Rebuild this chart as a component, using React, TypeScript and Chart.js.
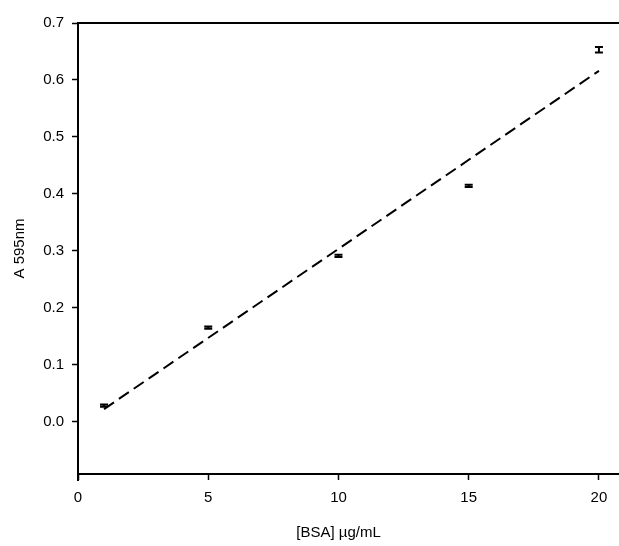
import React, { useEffect, useRef } from "react";
import { Chart, registerables } from "chart.js";

Chart.register(...registerables);

const concentrations = [1, 5, 10, 15, 20];
const absorbance = [0.028, 0.165, 0.291, 0.414, 0.653];
const errors = [0.002, 0.002, 0.002, 0.002, 0.005];
const fitX = [1, 20];
const fitY = [0.022, 0.616];
const xTicks = [0, 5, 10, 15, 20];
const yTicks = [0, 0.1, 0.2, 0.3, 0.4, 0.5, 0.6, 0.7];
const xTitle = "[BSA] µg/mL";
const yTitle = "A 595nm";

const FONT = "'Liberation Sans', Arial, sans-serif";

const errorBarPlugin = {
  id: "errorBars",
  afterDatasetsDraw(chart: any) {
    const { ctx, scales } = chart;
    const xs = scales.x;
    const ys = scales.y;
    ctx.save();
    ctx.strokeStyle = "#000";
    ctx.lineWidth = 2;
    concentrations.forEach((c, i) => {
      const px = xs.getPixelForValue(c);
      const top = ys.getPixelForValue(absorbance[i] + errors[i]);
      const bot = ys.getPixelForValue(absorbance[i] - errors[i]);
      const hw = 4;
      ctx.beginPath();
      ctx.moveTo(px, top);
      ctx.lineTo(px, bot);
      ctx.moveTo(px - hw, top);
      ctx.lineTo(px + hw, top);
      ctx.moveTo(px - hw, bot);
      ctx.lineTo(px + hw, bot);
      ctx.stroke();
    });
    ctx.restore();
  },
};

const framePlugin = {
  id: "frame",
  afterDraw(chart: any) {
    const { ctx, chartArea, scales } = chart;
    ctx.save();
    ctx.strokeStyle = "#000";
    ctx.lineWidth = 2;
    ctx.beginPath();
    ctx.moveTo(chartArea.left - 1, chartArea.top);
    ctx.lineTo(chartArea.right, chartArea.top);
    ctx.moveTo(chartArea.left, chartArea.bottom);
    ctx.lineTo(chartArea.left, chartArea.bottom + 7);
    ctx.stroke();
    ctx.fillStyle = "#000";
    ctx.font = `15px ${FONT}`;
    ctx.textAlign = "center";
    ctx.textBaseline = "middle";
    const cx = (scales.x.getPixelForValue(xTicks[0]) + scales.x.getPixelForValue(xTicks[xTicks.length - 1])) / 2;
    ctx.fillText(xTitle, cx, 533);
    ctx.translate(20, (chartArea.top + chartArea.bottom) / 2);
    ctx.rotate(-Math.PI / 2);
    ctx.fillText(yTitle, 0, 0);
    ctx.restore();
  },
};

export default function App() {
  const ref = useRef<HTMLCanvasElement | null>(null);
  useEffect(() => {
    document.body.style.margin = "0";
    if (!ref.current) return;
    const chart = new Chart(ref.current, {
      type: "scatter",
      data: {
        datasets: [
          {
            label: "fit",
            data: fitX.map((x, i) => ({ x, y: fitY[i] })),
            showLine: true,
            borderColor: "#000",
            borderWidth: 2,
            borderDash: [12, 6],
            pointRadius: 0,
            fill: false,
          },
          {
            label: "data",
            data: concentrations.map((x, i) => ({ x, y: absorbance[i] })),
            pointRadius: 0,
            borderColor: "#000",
            backgroundColor: "#000",
          },
        ],
      },
      options: {
        animation: false,
        responsive: false,
        layout: { padding: { top: 23, right: 0, left: 0, bottom: 0 } },
        plugins: { legend: { display: false }, tooltip: { enabled: false } },
        scales: {
          x: {
            type: "linear",
            min: 0,
            max: 20.77,
            afterBuildTicks(scale: any) {
              scale.ticks = xTicks.map((v) => ({ value: v }));
            },
            afterFit(scale: any) {
              scale.height = 72;
            },
            grid: { display: true, drawOnChartArea: false, drawTicks: true, tickLength: 6, tickColor: "#000", tickWidth: 1.5, color: "#000" },
            border: { display: true, color: "#000", width: 2 },
            ticks: {
              color: "#000",
              font: { family: FONT, size: 15 },
              padding: 9,
              maxRotation: 0,
              callback: (v: any) => String(v),
            },
          },
          y: {
            type: "linear",
            min: -0.092,
            max: 0.7,
            afterBuildTicks(scale: any) {
              scale.ticks = yTicks.map((v) => ({ value: v }));
            },
            afterFit(scale: any) {
              scale.width = 78;
            },
            grid: { display: true, drawOnChartArea: false, drawTicks: true, tickLength: 6, tickColor: "#000", tickWidth: 1.5, color: "#000" },
            border: { display: true, color: "#000", width: 2 },
            ticks: {
              color: "#000",
              font: { family: FONT, size: 15 },
              padding: 8,
              callback: (v: any) => Number(v).toFixed(1),
            },
          },
        },
      },
      plugins: [errorBarPlugin, framePlugin],
    } as any);
    return () => chart.destroy();
  }, []);
  return (
    <div style={{ width: 619, height: 546, background: "#fff" }}>
      <canvas ref={ref} width={619} height={546} style={{ display: "block" }} />
    </div>
  );
}
